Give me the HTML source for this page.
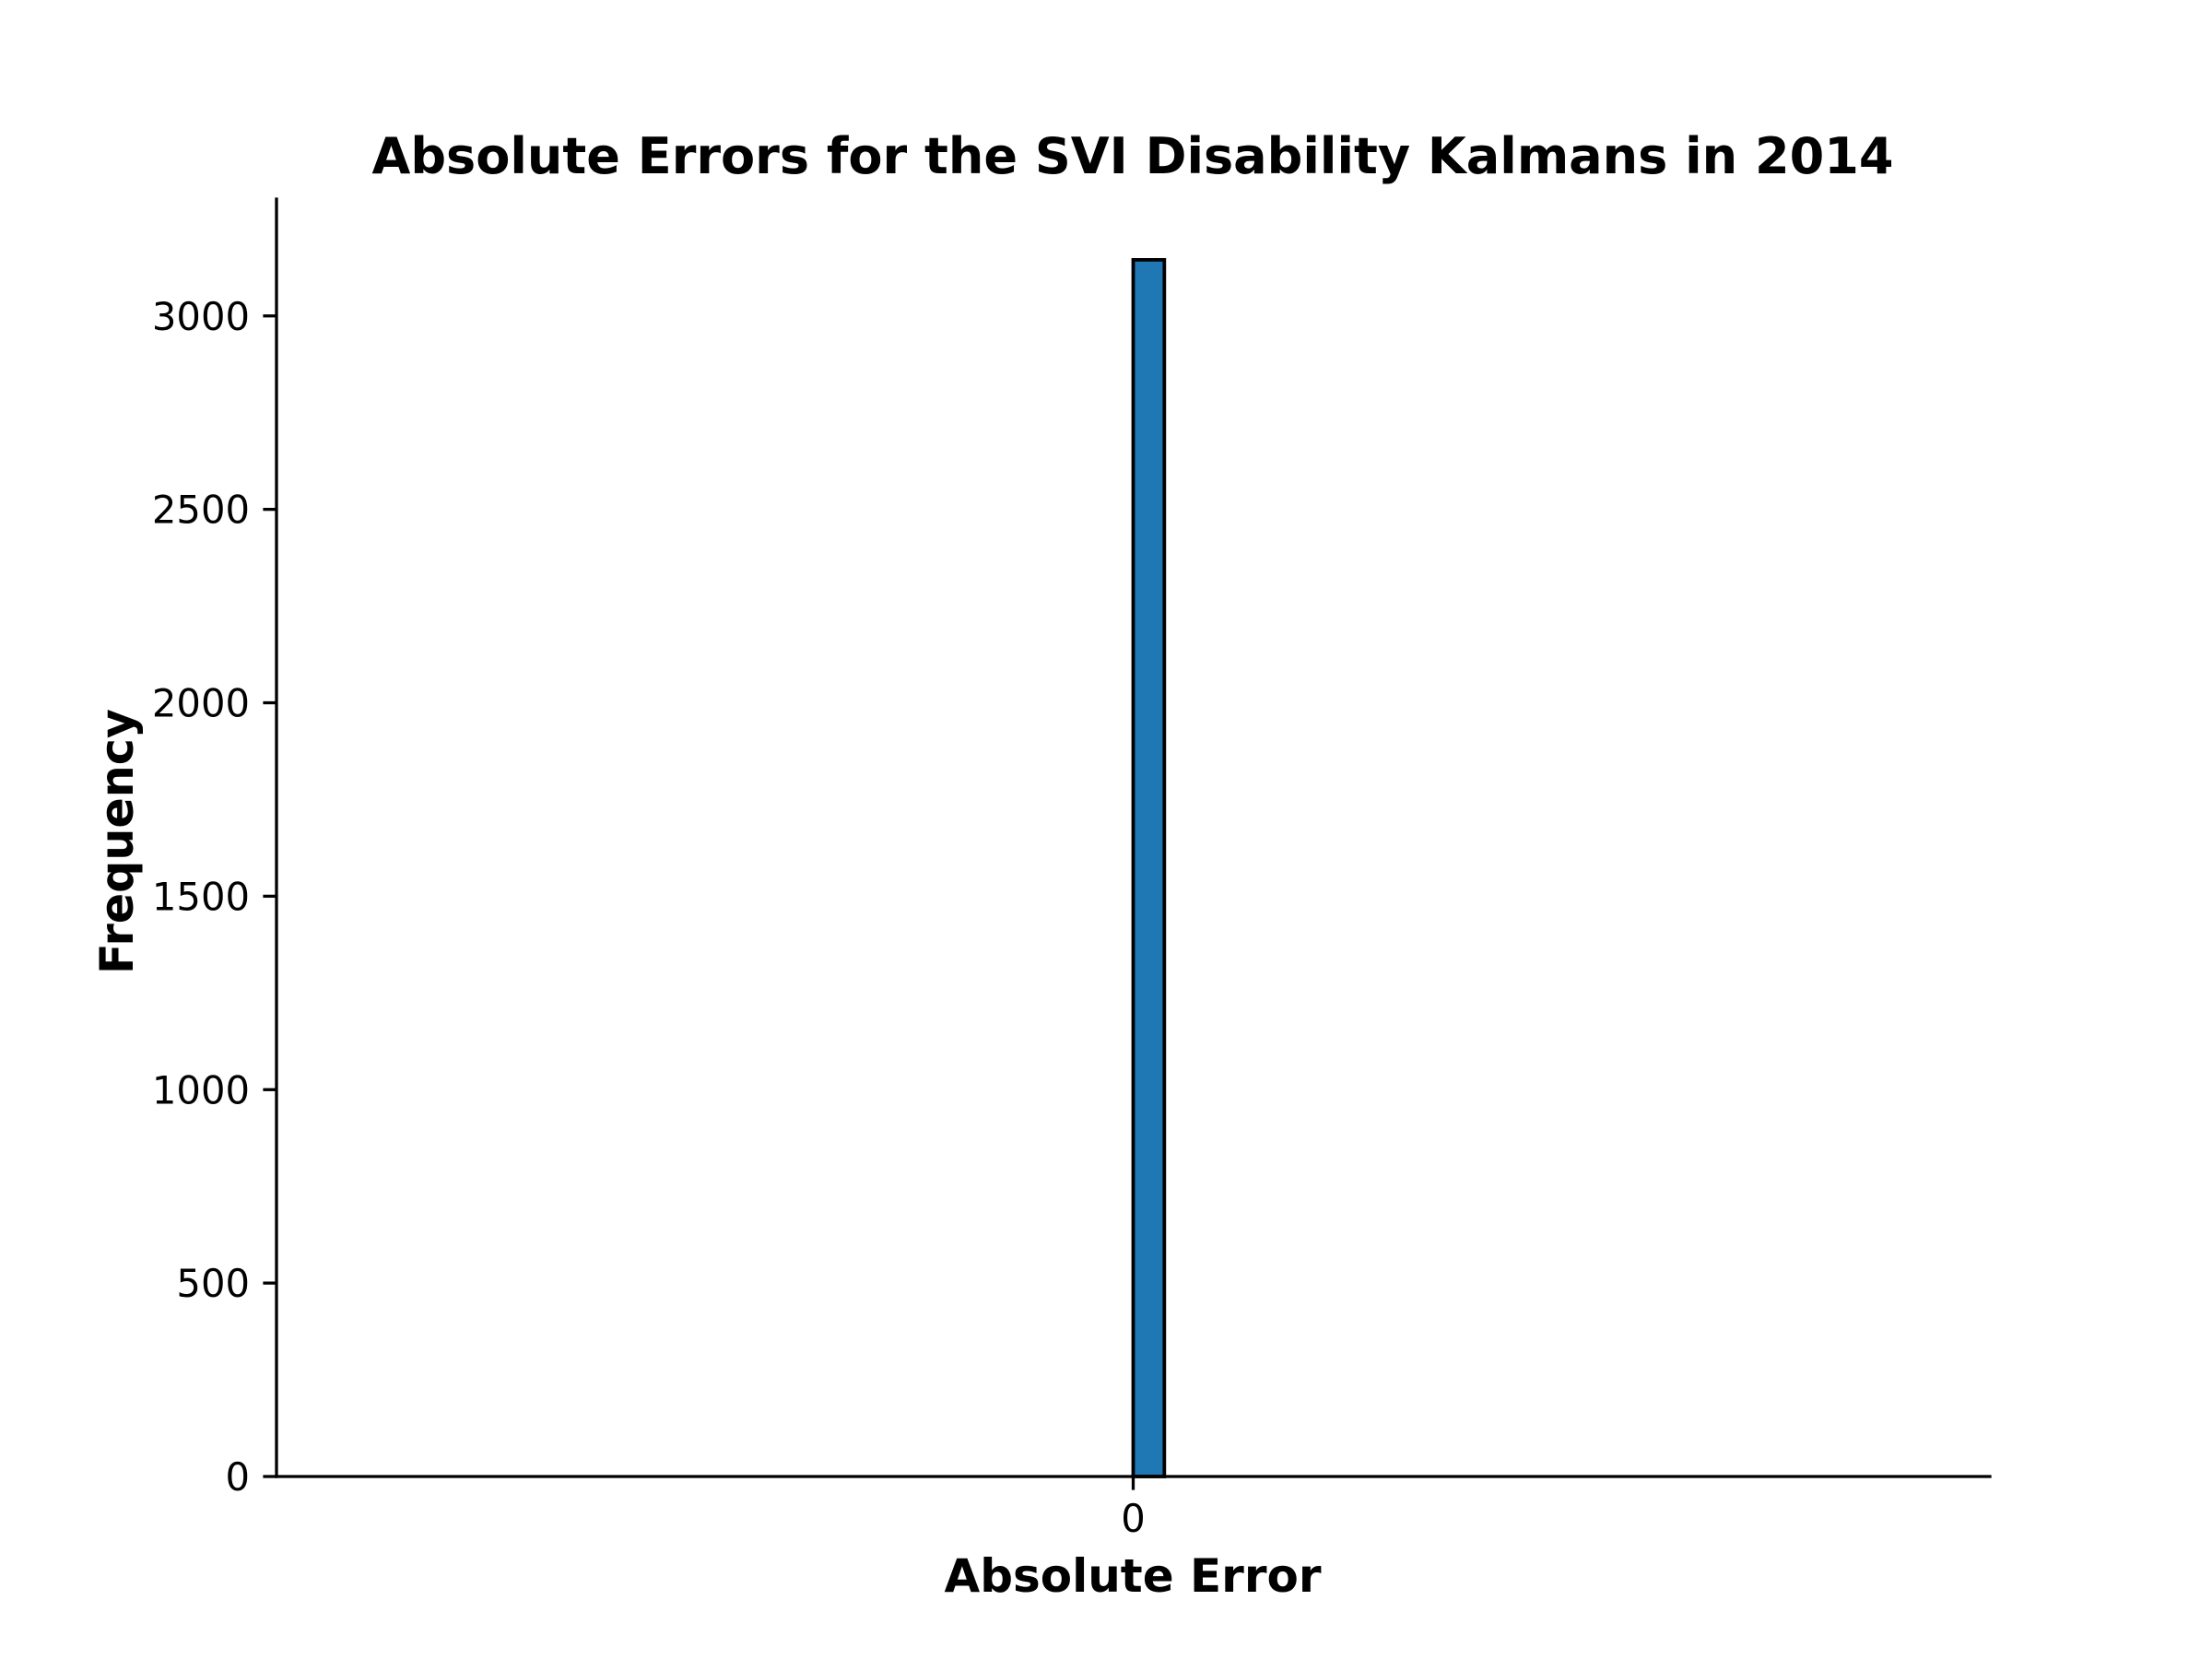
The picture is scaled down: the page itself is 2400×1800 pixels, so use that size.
<!DOCTYPE html>
<html><head><meta charset="utf-8"><style>
html,body{margin:0;padding:0;background:#fff}
svg{display:block}
text{font-family:"DejaVu Sans","Liberation Sans",sans-serif;fill:#000}
</style></head><body>
<svg id="chart" width="2400" height="1800" viewBox="0 0 2400 1800" xmlns="http://www.w3.org/2000/svg">
<text x="1229" y="188" font-size="54" font-weight="bold" text-anchor="middle" textLength="1651" lengthAdjust="spacingAndGlyphs">Absolute Errors for the SVI Disability Kalmans in 2014</text>
<text x="1229" y="1727" font-size="50" font-weight="bold" text-anchor="middle" textLength="409" lengthAdjust="spacingAndGlyphs">Absolute Error</text>
<text x="0" y="0" font-size="50" font-weight="bold" text-anchor="middle" textLength="288" lengthAdjust="spacingAndGlyphs" transform="translate(144,913) rotate(-90)">Frequency</text>
<g id="bars"></g>
<g id="axes"></g>
</svg>
<script>
const binStart = -0.5;
const binEnd = 0.5;
const counts = [0,0,0,0,0,0,0,0,0,0,0,0,0,0,0,0,0,0,0,0,0,0,0,0,0,3145,0,0,0,0,0,0,0,0,0,0,0,0,0,0,0,0,0,0,0,0,0,0,0,0];
const yTicks = [0,500,1000,1500,2000,2500,3000];
const xTicks = [0];
const xTickLabels = ["0"];

const NS = "http://www.w3.org/2000/svg";
const xL = 300, xR = 2159, yB = 1602, yT = 216;
const xMin = -0.55, xMax = 0.55;
const yMax = 3302;
const xs = v => xL + (v - xMin) / (xMax - xMin) * (xR - xL);
const ys = v => yB - v / yMax * (yB - yT);
function mk(tag, attrs, parent){const e=document.createElementNS(NS,tag);for(const k in attrs)e.setAttribute(k,attrs[k]);parent.appendChild(e);return e;}
const bars = document.getElementById('bars');
const axes = document.getElementById('axes');
const bw = (binEnd - binStart) / counts.length;
counts.forEach((c,i)=>{
  const x0 = xs(binStart + i*bw), x1 = xs(binStart + (i+1)*bw);
  const r = mk('rect',{x:x0,y:ys(c),width:x1-x0,height:ys(0)-ys(c),fill:'#1f77b4',stroke:'#000','stroke-width':3.8},bars);
  
  
});
const la = mk('line',{x1:xL,y1:yT,x2:xL,y2:yB,stroke:'#000','stroke-width':3.3,'stroke-linecap':'square'},axes);


const ba = mk('line',{x1:xL,y1:yB,x2:xR,y2:yB,stroke:'#000','stroke-width':3.3,'stroke-linecap':'square'},axes);


yTicks.forEach(t=>{
  const y = ys(t);
  const tk = mk('line',{x1:xL-14.6,y1:y,x2:xL,y2:y,stroke:'#000','stroke-width':3.3},axes);
  
  
  const tx = mk('text',{x:xL-29,y:y+15,'font-size':41.7,'text-anchor':'end'},axes);
  tx.textContent = String(t);
  
  
});
xTicks.forEach((t,i)=>{
  const x = xs(t);
  const tk = mk('line',{x1:x,y1:yB,x2:x,y2:yB+14.6,stroke:'#000','stroke-width':3.3},axes);
  
  
  const tx = mk('text',{x:x,y:yB+60,'font-size':41.7,'text-anchor':'middle'},axes);
  tx.textContent = xTickLabels[i];
  
  
});
</script>
</body></html>
